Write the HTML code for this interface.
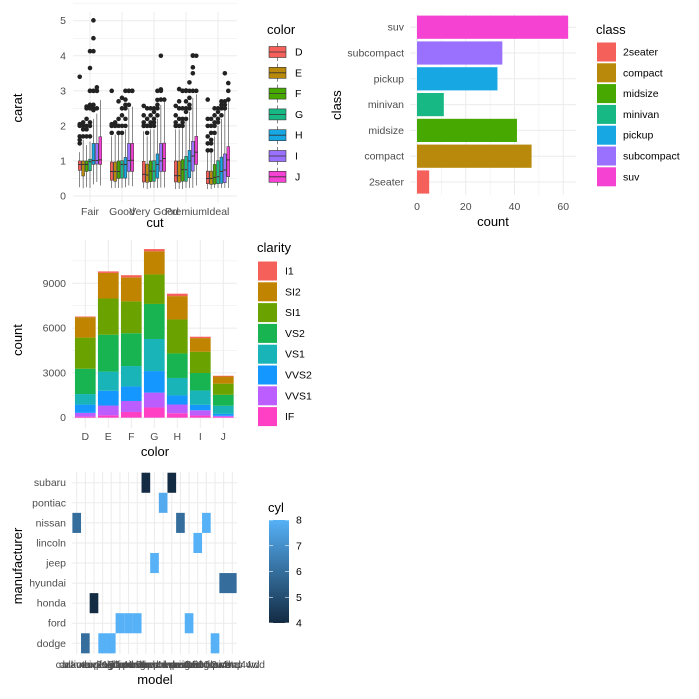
<!DOCTYPE html>
<html><head><meta charset="utf-8">
<style>
html,body{margin:0;padding:0;background:#fff;}
svg{display:block;font-family:"Liberation Sans",sans-serif;}
.tick{font-size:10.5px;fill:#4D4D4D;}
.ttl{font-size:13px;fill:#000;}
.leg{font-size:10.5px;fill:#000;}
</style></head>
<body>
<svg id="c" width="699" height="699" viewBox="0 0 699 699"></svg>
<script>
// ---------- boxplot data ----------
const cuts = ["Fair","Good","Very Good","Premium","Ideal"];
const colorLevels = ["D","E","F","G","H","I","J"];
const colorFills = ["#F5605B","#B8890A","#46A800","#18B884","#17A8E4","#9A71FF","#F542D3"];
// [lower whisker, q1, median, q3, upper whisker]
const boxStats = [
 [[0.25,0.73,0.9,1.0,1.25],[0.22,0.57,0.9,1.0,1.6],[0.25,0.7,0.9,1.0,1.45],[0.23,0.72,0.98,1.05,1.55],[0.33,0.9,1.01,1.5,2.2],[0.4,0.91,1.01,1.5,2.35],[0.3,0.9,1.03,1.69,2.74]],
 [[0.23,0.45,0.7,0.97,1.7],[0.23,0.42,0.7,0.97,1.75],[0.23,0.5,0.7,1.0,1.75],[0.23,0.51,0.9,1.01,1.73],[0.25,0.51,0.9,1.1,1.9],[0.3,0.7,1.01,1.5,2.5],[0.28,0.7,1.02,1.5,2.55]],
 [[0.23,0.4,0.62,0.99,1.85],[0.2,0.39,0.6,0.91,1.7],[0.23,0.41,0.71,1.0,1.9],[0.23,0.42,0.71,1.01,1.9],[0.23,0.51,0.9,1.2,2.2],[0.24,0.7,1.0,1.5,2.6],[0.24,0.7,1.07,1.51,2.7]],
 [[0.2,0.4,0.58,1.0,1.9],[0.2,0.39,0.58,1.0,1.9],[0.2,0.42,0.75,1.04,1.96],[0.23,0.42,0.75,1.13,2.2],[0.23,0.52,1.0,1.3,2.4],[0.23,0.71,1.14,1.56,2.8],[0.3,0.9,1.25,1.7,2.9]],
 [[0.2,0.35,0.5,0.71,1.25],[0.2,0.33,0.5,0.71,1.25],[0.23,0.34,0.53,0.9,1.7],[0.23,0.35,0.55,1.01,2.0],[0.23,0.36,0.7,1.11,2.2],[0.23,0.38,0.74,1.2,2.5],[0.23,0.55,1.03,1.41,2.7]]
];
const outliers = [
 [[1.5,1.6,1.7,2.0,2.05,3.4],[1.7,1.9,2.0,2.0,2.1],[1.7,1.9,2.0,2.2,2.5,2.55],[1.7,2.0,2.1,2.5,2.55,2.6,3.0,3.0,3.65,4.13],[2.45,2.5,2.6,3.0,3.0,4.13,4.5,5.01],[2.5,3.0,3.0,3.1],[]],
 [[1.8,2.0,2.0,2.05,3.0],[2.0,2.0,2.05,2.1],[1.8,2.0,2.2,2.7],[1.8,2.0,2.3,2.5,2.8],[2.0,2.2,2.5,2.6,2.75,3.0],[2.6,3.0,3.0],[3.0,3.0]],
 [[2.0,2.0,2.1,2.3,2.57],[1.8,2.0,2.0,2.2,2.5],[2.0,2.0,2.1,2.3,2.5],[2.0,2.1,2.2,2.4,2.5],[2.3,2.5,2.6,2.74,3.0],[2.75,3.0,3.04,4.0],[2.75]],
 [[2.0,2.0,2.1,2.3,2.57],[2.0,2.0,2.2,2.5,2.7,3.05],[2.0,2.1,2.2,2.5,3.0,3.0],[2.2,2.4,2.5,2.7,3.01,3.0],[2.5,2.6,2.8,3.0,3.24],[3.0,3.5,3.67,4.0,4.01],[3.0,4.0]],
 [[1.3,1.5,1.7,2.0,2.2,2.75],[1.3,1.5,1.6,1.8,2.0,2.2],[1.8,2.0,2.1,2.3,2.5],[2.1,2.2,2.4,2.5],[2.3,2.5,2.6,2.7],[2.5,2.6,2.7,3.5],[2.75,3.0,3.22]]
];
const caratTicks = [0,1,2,3,4,5];

// ---------- class bar data ----------
const classes = ["2seater","compact","midsize","minivan","pickup","subcompact","suv"];
const classCounts = [5,47,41,11,33,35,62];
const classFills = ["#F5605B","#B8890A","#46A800","#18B884","#17A8E4","#9A71FF","#F542D3"];
const countTicks = [0,20,40,60];

// ---------- stacked bar data ----------
const dColors = ["D","E","F","G","H","I","J"];
const clarities = ["I1","SI2","SI1","VS2","VS1","VVS2","VVS1","IF"];
const clarityFills = ["#F5605B","#C08400","#6AA300","#18B452","#18B4B8","#1497FF","#BC5DFF","#FF40C4"];
const stackCounts = [ // per color, per clarity (I1..IF)
 [42,1370,2083,1697,705,553,252,73],
 [102,1713,2426,2470,1281,991,656,158],
 [143,1609,2131,2201,1364,975,734,385],
 [150,1548,1976,2347,2148,1443,999,681],
 [162,1563,2275,1643,1169,608,585,299],
 [92,912,1424,1169,962,365,355,143],
 [50,479,750,731,542,131,74,51]
];
const stackTicks = [0,3000,6000,9000];

// ---------- heatmap data ----------
const models = ["altima","caravan 2wd","civic","dakota pickup 4wd","durango 4wd","expedition 2wd","explorer 4wd","f150 pickup 4wd","forester awd","grand cherokee 4wd","grand prix","impreza awd","maxima","mustang","navigator 2wd","pathfinder 4wd","ram 1500 pickup 4wd","sonata","tiburon 4wd"];
const manufacturers = ["dodge","ford","honda","hyundai","jeep","lincoln","nissan","pontiac","subaru"];
const tileModel = [0,1,2,3,4,5,6,7,8,9,10,11,12,13,14,15,16,17,18];
const tileMaker = ["nissan","dodge","honda","dodge","dodge","ford","ford","ford","subaru","jeep","pontiac","subaru","nissan","ford","lincoln","nissan","dodge","hyundai","hyundai"];
const tileCyl = [6,6,4,8,8,8,8,8,4,8,7.8,4,6,8,8,8,8,6,6];
const cylTicks = [4,5,6,7,8];

const svg = document.getElementById('c');
const NS = "http://www.w3.org/2000/svg";
function mk(tag, attrs, parent){ const e=document.createElementNS(NS,tag); for(const k in attrs) e.setAttribute(k,attrs[k]); (parent||svg).appendChild(e); return e; }
function txt(s, x, y, cls, anchor, parent, rot){ const t=mk('text',{x:x,y:y,class:cls,'text-anchor':anchor||'start'},parent); if(rot) t.setAttribute('transform','rotate(-90 '+x+' '+y+')'); t.textContent=s; return t; }
function grid(x1,y1,x2,y2,w,parent){ return mk('line',{x1:x1,y1:y1,x2:x2,y2:y2,stroke:'#EBEBEB','stroke-width':w},parent); }

// ===== Panel 1: boxplot =====
(function(){
 const g=mk('g',{});  
 const yS=v=>196-v*35.06, xS=i=>90+i*32, L=73,R=237,T=12,B=203;
 for(let v=0.5;v<5.6;v+=1){ grid(L,yS(v),R,yS(v),0.5,g); }
 caratTicks.forEach(v=>{ grid(L,yS(v),R,yS(v),1,g); const t=txt(String(v),66,yS(v)+3.5,'tick','end',g);   });
 cuts.forEach((c,i)=>{ grid(xS(i),T,xS(i),B,1,g); const t=txt(c,xS(i),215,'tick','middle',g);   });
 const bw=24/7;
 cuts.forEach((c,i)=>{
  colorLevels.forEach((cl,j)=>{
   const s=boxStats[i][j]; const cx=xS(i)-12+(j+0.5)*bw;
   const bg=mk('g',{},g);  
   mk('line',{x1:cx,y1:yS(s[0]),x2:cx,y2:yS(s[4]),stroke:'#333','stroke-width':0.6},bg);
   mk('rect',{x:cx-bw/2+0.3,y:yS(s[3]),width:bw-0.6,height:yS(s[1])-yS(s[3]),fill:colorFills[j],stroke:'#333','stroke-width':0.5},bg);
   mk('line',{x1:cx-bw/2+0.3,y1:yS(s[2]),x2:cx+bw/2-0.3,y2:yS(s[2]),stroke:'#333','stroke-width':1},bg);
   outliers[i][j].forEach(v=>{ const p=mk('circle',{cx:cx,cy:yS(v),r:2.3,fill:'#222'},bg);   });
  });
 });
 const xt=txt('cut',155,227,'ttl','middle',g);  
 const yt=txt('carat',22,108,'ttl','middle',g,true);  
 const lg=mk('g',{},g);  
 txt('color',267,34,'ttl','start',lg);
 colorLevels.forEach((cl,j)=>{ const y=52+j*20.8; const e=mk('g',{},lg);  
  mk('line',{x1:277.5,y1:y-9,x2:277.5,y2:y+9,stroke:'#333','stroke-width':0.6},e);
  mk('rect',{x:269,y:y-5.5,width:17,height:11,fill:colorFills[j],stroke:'#333','stroke-width':0.6},e);
  mk('line',{x1:269,y1:y,x2:286,y2:y,stroke:'#333','stroke-width':0.8},e);
  txt(cl,295,y+3.5,'leg','start',e); });
})();

// ===== Panel 2: class bar =====
(function(){
 const g=mk('g',{});  
 const xS=v=>417+v*2.438, yS=i=>182-i*25.8, L=410,R=576,T=14,B=195;
 for(let v=10;v<65;v+=20) grid(xS(v),T,xS(v),B,0.5,g);
 countTicks.forEach(v=>{ grid(xS(v),T,xS(v),B,1,g); const t=txt(String(v),xS(v),210,'tick','middle',g);   });
 classes.forEach((c,i)=>{ grid(L,yS(i),R,yS(i),1,g); const t=txt(c,404,yS(i)+3.5,'tick','end',g);   });
 classes.forEach((c,i)=>{ const r=mk('rect',{x:xS(0),y:yS(i)-11.6,width:xS(classCounts[i])-xS(0),height:23.2,fill:classFills[i]},g);   });
 const xt=txt('count',493,226,'ttl','middle',g);  
 const yt=txt('class',341,105,'ttl','middle',g,true);  
 const lg=mk('g',{},g);  
 txt('class',596,34,'ttl','start',lg);
 classes.forEach((c,i)=>{ const y=52+i*20.8; const e=mk('g',{},lg);  
  mk('rect',{x:597,y:y-9.5,width:19,height:19,fill:classFills[i]},e); txt(c,623,y+3.5,'leg','start',e); });
})();

// ===== Panel 3: stacked bar =====
(function(){
 const g=mk('g',{});  
 const yS=v=>417.7-v*0.014933, xS=i=>85.3+i*23, L=72,R=237,T=240,B=428;
 for(let v=1500;v<12000;v+=3000) grid(L,yS(v),R,yS(v),0.5,g);
 stackTicks.forEach(v=>{ grid(L,yS(v),R,yS(v),1,g); const t=txt(String(v),66,yS(v)+3.5,'tick','end',g);   });
 dColors.forEach((c,i)=>{ grid(xS(i),T,xS(i),B,1,g); const t=txt(c,xS(i),440,'tick','middle',g);   });
 dColors.forEach((c,i)=>{ let cum=0; for(let k=clarities.length-1;k>=0;k--){ const v=stackCounts[i][k];
   const r=mk('rect',{x:xS(i)-10.35,y:yS(cum+v),width:20.7,height:yS(cum)-yS(cum+v),fill:clarityFills[k]},g);
     cum+=v; } });
 const xt=txt('color',155,456,'ttl','middle',g);  
 const yt=txt('count',22,340,'ttl','middle',g,true);  
 const lg=mk('g',{},g);  
 txt('clarity',257,252,'ttl','start',lg);
 clarities.forEach((c,i)=>{ const y=271+i*20.8; const e=mk('g',{},lg);  
  mk('rect',{x:258,y:y-9.5,width:19,height:19,fill:clarityFills[i]},e); txt(c,285,y+3.5,'leg','start',e); });
})();

// ===== Panel 4: heatmap =====
(function(){
 const g=mk('g',{});  
 const xS=i=>76.7+i*8.645, yS=i=>643.3-i*20.07, L=72,R=237,T=472,B=654;
 models.forEach((m,i)=>{ grid(xS(i),T,xS(i),B,1,g); const t=txt(m,xS(i),668,'tick','middle',g);   });
 manufacturers.forEach((m,i)=>{ grid(L,yS(i),R,yS(i),1,g); const t=txt(m,66,yS(i)+3.5,'tick','end',g);   });
 const lo=[19,43,67], hi=[86,177,247];
 const col=v=>{const f=(v-4)/4; const c=lo.map((a,k)=>Math.round(a+(hi[k]-a)*f)); return 'rgb('+c.join(',')+')';};
 tileModel.forEach((mi,k)=>{ const yi=manufacturers.indexOf(tileMaker[k]);
  const r=mk('rect',{x:xS(mi)-4.32,y:yS(yi)-10.03,width:8.65,height:20.07,fill:col(tileCyl[k])},g);
    });
 const xt=txt('model',155,684,'ttl','middle',g);  
 const yt=txt('manufacturer',22,566,'ttl','middle',g,true);  
 const lg=mk('g',{},g);  
 txt('cyl',268,512,'ttl','start',lg);
 const defs=mk('defs',{},lg); const gr=mk('linearGradient',{id:'cylg',x1:0,y1:1,x2:0,y2:0},defs);
 mk('stop',{offset:0,'stop-color':col(4)},gr); mk('stop',{offset:1,'stop-color':col(8)},gr);
 const cT=520,cB=623; mk('rect',{x:269,y:cT,width:20,height:cB-cT,fill:'url(#cylg)'},lg);
 const cy=v=>cB-(v-4)/4*(cB-cT);
 cylTicks.forEach(v=>{ mk('line',{x1:269,y1:cy(v),x2:273,y2:cy(v),stroke:'#fff','stroke-width':0.6},lg); mk('line',{x1:285,y1:cy(v),x2:289,y2:cy(v),stroke:'#fff','stroke-width':0.6},lg);
  txt(String(v),296,cy(v)+3.5,'leg','start',lg); });
})();
</script>
</body></html>
